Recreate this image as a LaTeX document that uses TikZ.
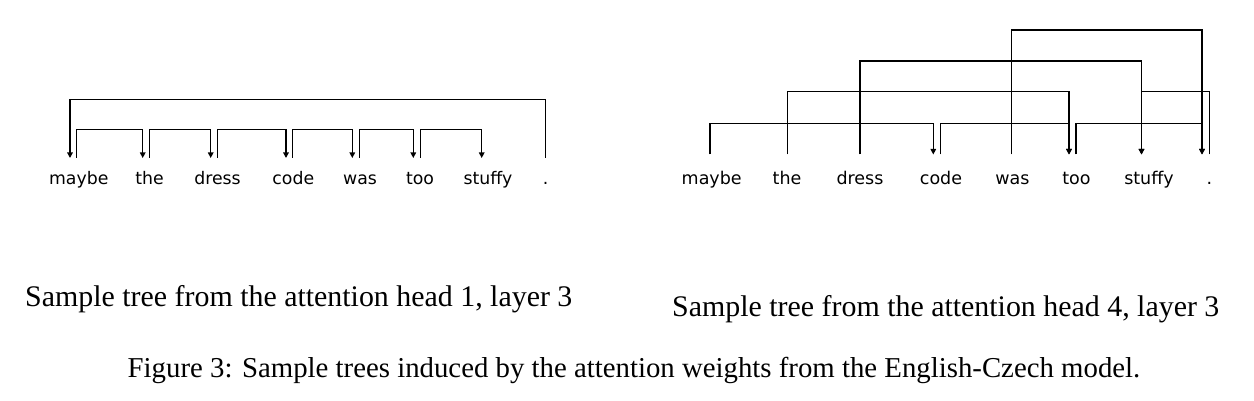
\documentclass[tikz,border=0pt]{standalone}
\usepackage{fontspec}
\setmainfont{Liberation Serif}
\newfontfamily\wordfont{DejaVu Sans}
\usetikzlibrary{arrows.meta}
\begin{document}
\begin{tikzpicture}[x=1pt,y=-1pt,
  word/.style={anchor=base, inner sep=0pt, font=\wordfont\fontsize{17.3}{20}\selectfont},
  wordR/.style={word, font=\wordfont\fontsize{17.5}{20}\selectfont},
  captext/.style={anchor=base west, inner sep=0pt, font=\fontsize{29.9}{36}\selectfont},
  figtext/.style={anchor=base, inner sep=0pt, font=\fontsize{28.8}{34}\selectfont},
  link/.style={line width=1.25pt, draw=black},
  arr/.style={link, -{Triangle[width=5.5pt,length=5.5pt]}},
]
\useasboundingbox (0,0) rectangle (1254,401);

% ---------- left tree ----------
\node[word] (Lmaybe)  at (78.8,185) {maybe};
\node[word] (Lthe)    at (149.5,185) {the};
\node[word] (Ldress)  at (217.5,185) {dress};
\node[word] (Lcode)   at (293.3,185) {code};
\node[word] (Lwas)    at (360,185) {was};
\node[word] (Ltoo)    at (420,185) {too};
\node[word] (Lstuffy) at (488,185) {stuffy};
\node[word] (Ldot)    at (545.7,185) {.};

\coordinate (Llev1) at (0,99.3);
\coordinate (Llev2) at (0,129.3);

\coordinate (Lmaybe-in)  at (70,158);
\coordinate (Lmaybe-out) at (76.7,158);
\coordinate (Lthe-in)    at (142.7,158);
\coordinate (Lthe-out)   at (149.3,158);
\coordinate (Ldress-in)  at (210.7,158);
\coordinate (Ldress-out) at (217.7,158);
\coordinate (Lcode-in)   at (286,158);
\coordinate (Lcode-out)  at (292.7,158);
\coordinate (Lwas-in)    at (352.3,158);
\coordinate (Lwas-out)   at (359.3,158);
\coordinate (Ltoo-in)    at (413.3,158);
\coordinate (Ltoo-out)   at (420.7,158);
\coordinate (Lstuffy-in) at (481.7,158);
\coordinate (Ldot-out)   at (545.7,158);

\draw[arr] (Ldot-out) -- (Ldot-out |- Llev1) -| (Lmaybe-in);
\draw[arr] (Lmaybe-out) -- (Lmaybe-out |- Llev2) -| (Lthe-in);
\draw[arr] (Lthe-out) -- (Lthe-out |- Llev2) -| (Ldress-in);
\draw[arr] (Ldress-out) -- (Ldress-out |- Llev2) -| (Lcode-in);
\draw[arr] (Lcode-out) -- (Lcode-out |- Llev2) -| (Lwas-in);
\draw[arr] (Lwas-out) -- (Lwas-out |- Llev2) -| (Ltoo-in);
\draw[arr] (Ltoo-out) -- (Ltoo-out |- Llev2) -| (Lstuffy-in);

% ---------- right tree ----------
\node[wordR] (Rmaybe)  at (711.7,184.5) {maybe};
\node[wordR] (Rthe)    at (787,184.5) {the};
\node[wordR] (Rdress)  at (860,184.5) {dress};
\node[wordR] (Rcode)   at (941,184.5) {code};
\node[wordR] (Rwas)    at (1012.5,184.5) {was};
\node[wordR] (Rtoo)    at (1076.5,184.5) {too};
\node[wordR] (Rstuffy) at (1149,184.5) {stuffy};
\node[wordR] (Rdot)    at (1209.5,184.5) {.};

\coordinate (Rlev1) at (0,30);
\coordinate (Rlev2) at (0,61);
\coordinate (Rlev3) at (0,91.7);
\coordinate (Rlev4) at (0,123.3);

\coordinate (Rmaybe-out) at (710,154.5);
\coordinate (Rthe-out)   at (787.3,154.5);
\coordinate (Rdress-out) at (860,154.5);
\coordinate (Rcode-in)   at (933.3,154.5);
\coordinate (Rcode-out)  at (940.7,154.5);
\coordinate (Rwas-out)   at (1011.7,154.5);
\coordinate (Rtoo-in)    at (1069,154.5);
\coordinate (Rtoo-out)   at (1076,154.5);
\coordinate (Rstuffy-in) at (1141.5,154.5);
\coordinate (Rdot-in)    at (1202,154.5);
\coordinate (Rdot-out)   at (1209.5,154.5);

\draw[arr] (Rwas-out) -- (Rwas-out |- Rlev1) -| (Rdot-in);
\draw[arr] (Rdress-out) -- (Rdress-out |- Rlev2) -| (Rstuffy-in);
\draw[arr] (Rthe-out) -- (Rthe-out |- Rlev3) -| (Rtoo-in);
\draw[arr] (Rdot-out) -- (Rdot-out |- Rlev3) -| (Rstuffy-in);
\draw[arr] (Rmaybe-out) -- (Rmaybe-out |- Rlev4) -| (Rcode-in);
\draw[arr] (Rcode-out) -- (Rcode-out |- Rlev4) -| (Rtoo-in);
\draw[arr] (Rtoo-out) -- (Rtoo-out |- Rlev4) -| (Rdot-in);

% ---------- captions ----------
\node[captext] (capL) at (25,306.5) {Sample tree from the attention head 1, layer 3};
\node[captext] (capR) at (672,316) {Sample tree from the attention head 4, layer 3};
\node[figtext] (fig)  at (634,377.5) {Figure 3: Sample trees induced by the attention weights from the English-Czech model.};
\end{tikzpicture}
\end{document}
